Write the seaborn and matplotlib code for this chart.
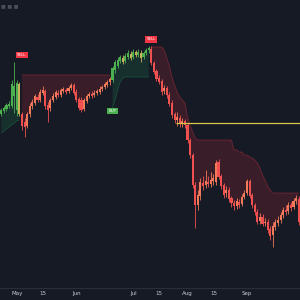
import numpy as np
import pandas as pd
import matplotlib
matplotlib.use("Agg")
import matplotlib.pyplot as plt
import seaborn as sns

nan = np.nan
dates = pd.bdate_range("2023-04-21", periods=116)

open_ = [174, 177, 179, 182, 182, 192, 178, 204, 174, 166,
         162, 174, 182, 185, 191, 188, 195, 197, 183, 180,
         188, 191, 195, 193, 197, 198, 197, 200, 203, 196,
         189, 188, 179, 187, 192, 194, 193, 195, 196, 199,
         201, 203, 206, 208, 218, 222, 227, 230, 227, 231,
         234, 231, 236, 233, 235, 231, 235, 238, 239, 225,
         217, 210, 207, 197, 200, 193, 185, 174, 168, 170,
         165, 167, 163, 148, 133, 103, 83, 92, 105, 103,
         106, 104, 107, 106, 126, 112, 103, 95, 98, 90,
         85, 82, 86, 84, 91, 95, 107, 93, 83, 76,
         67, 71, 65, 66, 59, 53, 61, 65, 68, 73,
         78, 77, 83, 81, 87, 89]
close = [178, 180, 183, 184, 204, 202, 205, 174, 162, 161,
         174, 182, 186, 192, 188, 196, 198, 182, 178, 188,
         192, 196, 193, 198, 199, 196, 200, 203, 195, 188,
         180, 178, 188, 192, 194, 192, 195, 197, 199, 201,
         204, 206, 209, 220, 226, 228, 231, 226, 232, 235,
         230, 236, 233, 236, 230, 235, 238, 240, 225, 216,
         209, 206, 196, 200, 193, 184, 173, 168, 171, 164,
         167, 163, 148, 133, 103, 83, 93, 106, 102, 107,
         104, 108, 110, 125, 111, 102, 93, 98, 89, 85,
         82, 87, 83, 91, 95, 107, 92, 83, 76, 66,
         71, 64, 66, 58, 52, 62, 66, 68, 73, 78,
         76, 83, 80, 87, 90, 66]
high = [180, 182, 185, 187, 208, 226, 208, 206, 176, 170,
        176, 185, 189, 194, 194, 199, 202, 199, 186, 190,
        195, 198, 198, 200, 201, 200, 202, 205, 205, 199,
        191, 191, 190, 194, 196, 197, 198, 199, 202, 203,
        206, 208, 211, 222, 228, 231, 233, 233, 235, 238,
        237, 239, 238, 239, 238, 237, 240, 242, 242, 227,
        219, 213, 209, 203, 202, 196, 188, 176, 176, 173,
        170, 169, 165, 150, 135, 106, 98, 110, 112, 118,
        112, 116, 114, 128, 129, 114, 105, 102, 101, 92,
        88, 90, 89, 94, 98, 109, 109, 95, 85, 79,
        75, 74, 70, 69, 62, 66, 69, 72, 76, 81,
        83, 86, 86, 90, 93, 92]
low = [172, 175, 177, 180, 180, 175, 172, 172, 158, 151,
       160, 171, 179, 183, 186, 186, 193, 179, 166, 177,
       186, 189, 191, 191, 195, 194, 195, 198, 193, 186,
       178, 176, 177, 185, 190, 190, 191, 193, 194, 197,
       199, 201, 203, 206, 215, 220, 225, 224, 225, 229,
       228, 229, 231, 231, 226, 229, 233, 235, 223, 214,
       207, 204, 193, 194, 190, 182, 170, 165, 162, 161,
       161, 160, 145, 130, 100, 60, 78, 88, 98, 100,
       101, 101, 103, 103, 109, 99, 90, 91, 86, 81,
       78, 79, 80, 82, 89, 93, 90, 80, 73, 64,
       64, 62, 62, 55, 48, 41, 58, 62, 65, 70,
       73, 74, 77, 79, 84, 63]

# SuperTrend levels (bullish support / bearish resistance)
st_bull = [155, 157, 159, 161, 163, 165, 167, 168] + [nan] * 35 + \
          [180, 188, 198, 206, 210, 211, 211, 211, 211, 211, 211, 211, 211, 211, 211] + [nan] * 58
st_bear = [nan] * 8 + [213] * 35 + [nan] * 15 + \
          [241, 241, 241, 241, 241, 238, 230, 222, 211, 203, 196, 191, 188, 185, 171, 163, 156, 150,
           148, 148, 148, 148, 148, 148, 148, 148, 148, 148, 148, 148, 148, 148,
           138, 138, 136, 136, 133, 133, 131, 130, 128, 125, 120, 113, 108, 102, 98,
           95, 95, 95, 95, 95, 95, 95, 95, 95, 95, 95]

signal_dates = ["2023-05-03", "2023-06-21", "2023-07-12"]
signal_text = ["SELL", "BUY", "SELL"]
signal_price = [233, 177, 248.5]

level_price = 165
level_start = "2023-07-26"

tick_dates = ["2023-05-01", "2023-05-15", "2023-06-01", "2023-07-03",
              "2023-07-17", "2023-08-01", "2023-08-15", "2023-09-01"]
tick_labels = ["May", "15", "Jun", "Jul", "15", "Aug", "15", "Sep"]

BG = "#161a25"
GREEN = "#4caf50"
TAN = "#c9b15a"
RED = "#f0504f"
ORANGE = "#f07a5a"
FILL_RED = "#f23645"
FILL_GREEN = "#1e9e5a"

sns.set_theme(style="dark", rc={"axes.facecolor": BG, "figure.facecolor": BG,
                                "axes.grid": False})
plt.rcParams['font.family'] = ['DejaVu Sans']

o = np.array(open_, float)
c = np.array(close, float)
h = np.array(high, float)
l = np.array(low, float)
sb = np.array(st_bull, float)
sr = np.array(st_bear, float)
x = np.arange(len(dates))
mid = (o + c) / 2

fig = plt.figure(figsize=(3, 3), dpi=100)
ax = fig.add_axes([0, 12 / 300, 1, 288 / 300])
ax.set_facecolor(BG)

# bands
ax.fill_between(x, sr, mid, where=~np.isnan(sr), color=FILL_RED, alpha=0.16, lw=0)
ax.fill_between(x, sb, mid, where=~np.isnan(sb), color=FILL_GREEN, alpha=0.16, lw=0)
ax.plot(x, sr, color=FILL_RED, alpha=0.35, lw=0.6)
ax.plot(x, sb, color=FILL_GREEN, alpha=0.35, lw=0.6)

# candles
bull = ~np.isnan(sb)
up = c >= o
cols = np.where(bull, np.where(up, GREEN, TAN), np.where(up, ORANGE, RED))
ax.vlines(x, l, h, colors=cols, lw=0.6)
body = np.maximum(np.abs(c - o), 0.8)
ax.bar(x, body, bottom=np.minimum(o, c), width=0.82, color=cols, lw=0)

# horizontal level
ls = dates.searchsorted(pd.Timestamp(level_start))
ax.hlines(level_price, ls - 0.5, len(dates), color="#d8c74a", lw=0.9)

# signal labels
for d, t, p in zip(signal_dates, signal_text, signal_price):
    xi = dates.searchsorted(pd.Timestamp(d))
    fc = GREEN if t == "BUY" else "#f23645"
    ax.text(xi, p, t, fontsize=2.9, color="white", ha="center", va="center",
            bbox=dict(boxstyle="square,pad=0.35", fc=fc, ec="none"))

ax.set_xlim(-0.5, len(dates) - 0.5)
ax.set_ylim(0, 288)
pos = [dates.searchsorted(pd.Timestamp(t)) for t in tick_dates]
ax.set_xticks(pos)
ax.set_xticklabels(tick_labels)
ax.set_yticks([])
ax.tick_params(axis="x", length=0, pad=2.2, labelsize=4, labelcolor="#c8cad2")
for s in ["top", "left", "right"]:
    ax.spines[s].set_visible(False)
ax.spines["bottom"].set_color("#2a2e39")
ax.spines["bottom"].set_linewidth(0.8)

fig.text(0.003, 0.99, "\u25a0 \u25a0 \u25a0", fontsize=3.6, color="#4a4e5a", ha="left", va="top")

fig.savefig("out.png", dpi=100, facecolor=BG)
